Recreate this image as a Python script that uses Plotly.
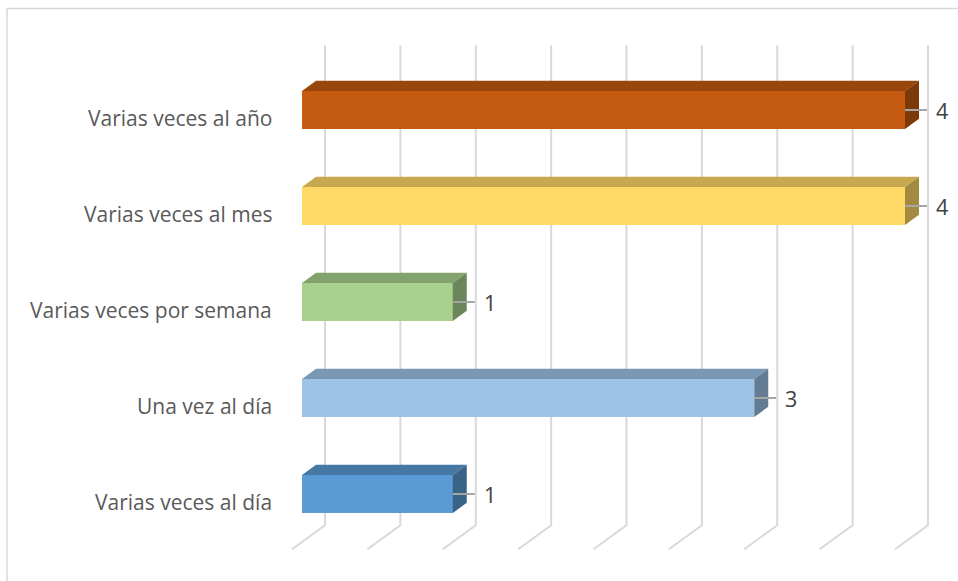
import plotly.graph_objects as go

# Survey answers: how often the activity happens
categories = [
    "Varias veces al día",
    "Una vez al día",
    "Varias veces por semana",
    "Varias veces al mes",
    "Varias veces al año",
]
values = [1, 3, 1, 4, 4]
front_colors = ["#5B9BD5", "#9DC3E6", "#A9D18E", "#FFD966", "#C55A11"]
grid_ticks = [0, 0.5, 1, 1.5, 2, 2.5, 3, 3.5, 4]

# Canvas and scale set-up (plot area spans the whole figure)
W, H = 958, 581
X0_PX, PX_PER_X = 302, 150.75     # pixel of value 0 and pixels per unit (front plane)
Y0_PX, PX_PER_Y = 494, 96         # pixel of the first category and pixels per category
SLOPE = 0.73                      # oblique projection of the depth axis
BAR_W = 0.396                     # bar thickness in category units
HALF = BAR_W / 2


def depth(px):
    """Offset in data units for a depth of `px` pixels into the scene."""
    return px / PX_PER_X, px * SLOPE / PX_PER_Y


def shade(hex_color, f):
    h = hex_color.lstrip("#")
    r, g, b = (int(h[i:i + 2], 16) for i in (0, 2, 4))
    return "#%02X%02X%02X" % (int(r * f), int(g * f), int(b * f))


x_range = [-X0_PX / PX_PER_X, (W - X0_PX) / PX_PER_X]
y_range = [(Y0_PX - H) / PX_PER_Y, Y0_PX / PX_PER_Y]
ypos = list(range(len(categories)))

bar_dx, bar_dy = depth(14)
wall_dx, wall_dy = depth(23)
floor_dx, floor_dy = depth(-10)
band_lo, band_hi = -0.5, len(categories) - 0.5

fig = go.Figure()

# Front faces of the bars
fig.add_trace(go.Bar(
    y=ypos, x=values, orientation="h", width=BAR_W,
    marker=dict(color=front_colors, line=dict(width=0)),
    hoverinfo="skip", showlegend=False,
))

# Top and side faces give the bars their depth
for k, (v, c) in enumerate(zip(values, front_colors)):
    top_x = [0, bar_dx, v + bar_dx, v, 0]
    top_y = [k + HALF, k + HALF + bar_dy, k + HALF + bar_dy, k + HALF, k + HALF]
    fig.add_trace(go.Scatter(
        x=top_x, y=top_y, mode="lines", fill="toself",
        fillcolor=shade(c, 0.78), line=dict(width=0),
        hoverinfo="skip", showlegend=False,
    ))
    side_x = [v, v, v + bar_dx, v + bar_dx, v]
    side_y = [k - HALF, k + HALF, k + HALF + bar_dy, k - HALF + bar_dy, k - HALF]
    fig.add_trace(go.Scatter(
        x=side_x, y=side_y, mode="lines", fill="toself",
        fillcolor=shade(c, 0.64), line=dict(width=0),
        hoverinfo="skip", showlegend=False,
    ))

# Leader lines for the value labels
lead_dx = 22 / PX_PER_X
for k, v in enumerate(values):
    fig.add_trace(go.Scatter(
        x=[v, v + lead_dx], y=[k, k], mode="lines",
        line=dict(color="#A6A6A6", width=2),
        hoverinfo="skip", showlegend=False,
    ))

shapes = []
# Back-wall gridlines and their floor edges
for g in grid_ticks:
    shapes.append(dict(
        type="path", xref="x", yref="y", layer="below",
        path="M {a},{b} L {c},{d} L {e},{f}".format(
            a=g + wall_dx, b=band_hi + wall_dy,
            c=g + wall_dx, d=band_lo + wall_dy,
            e=g + floor_dx, f=band_lo + floor_dy,
        ),
        line=dict(color="#D9D9D9", width=2),
    ))

# Chart border (top and left edges)
bx, by = 7 / W, 1 - 8.5 / H
shapes.append(dict(
    type="path", xref="paper", yref="paper", layer="below",
    path="M {a},0 L {a},{b} L 1,{b}".format(a=bx, b=by),
    line=dict(color="#D9D9D9", width=1.5),
))

annotations = []
for k, name in enumerate(categories):
    annotations.append(dict(
        x=0, y=k - 8 / PX_PER_Y, xref="x", yref="y", text=name,
        showarrow=False, xanchor="right", yanchor="middle", xshift=-28,
        font=dict(family="Open Sans", size=21, color="#595959"),
    ))
for k, v in enumerate(values):
    annotations.append(dict(
        x=v, y=k, xref="x", yref="y", text=str(v),
        showarrow=False, xanchor="left", yanchor="middle", xshift=29,
        font=dict(family="Open Sans", size=21.5, color="#404040"),
    ))

fig.update_layout(
    width=W, height=H,
    margin=dict(l=0, r=0, t=0, b=0),
    paper_bgcolor="white", plot_bgcolor="white",
    xaxis=dict(range=x_range, visible=False, fixedrange=True),
    yaxis=dict(range=y_range, visible=False, fixedrange=True),
    shapes=shapes, annotations=annotations,
    showlegend=False, bargap=0,
)

fig.write_html("out.html")
